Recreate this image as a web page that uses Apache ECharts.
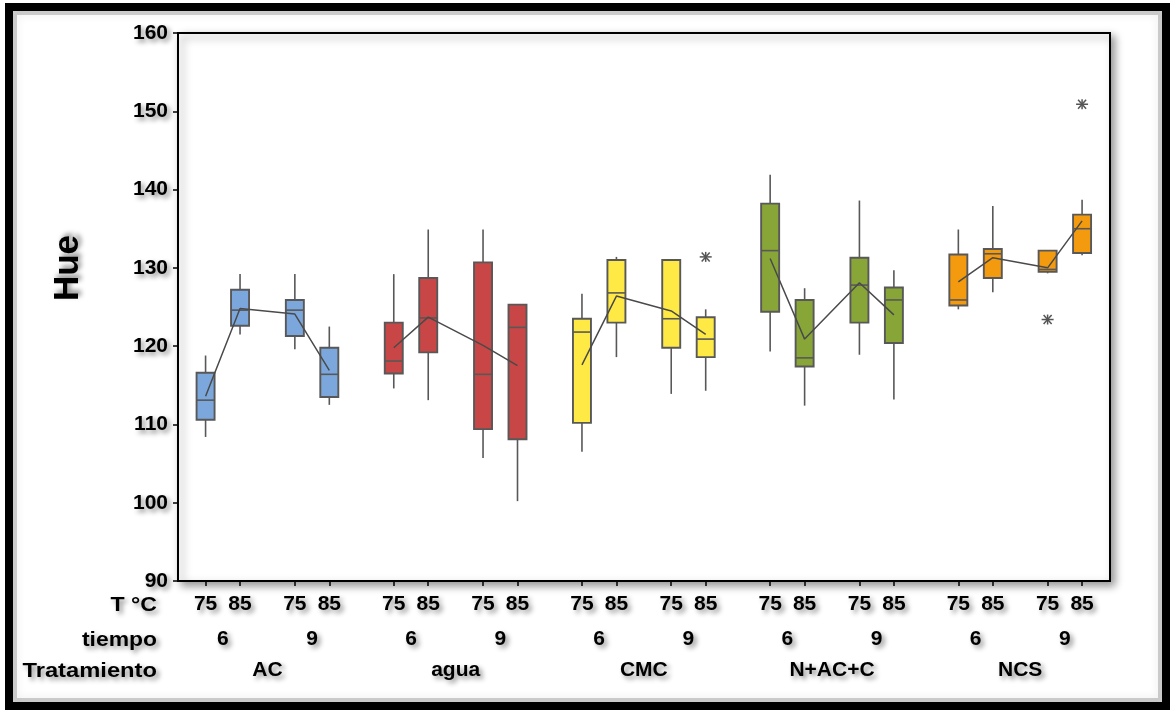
<!DOCTYPE html>
<html><head><meta charset="utf-8">
<script src="https://cdn.jsdelivr.net/npm/echarts@6/dist/echarts.min.js"></script>
<style>html,body{margin:0;padding:0;background:#fff}#c{width:1171px;height:710px}</style>
</head><body><div id="c"></div>
<script>
// ---- data ----
const treatments = ['AC', 'agua', 'CMC', 'N+AC+C', 'NCS'];
const tiempos = ['6', '9'];
const temps = ['75', '85'];
const yTicks = [90, 100, 110, 120, 130, 140, 150, 160];
// box order: treatment > tiempo > T °C
const whiskerLow  = [108.4, 121.5, 119.6, 112.5, 114.6, 113.1, 105.7, 100.2, 106.5, 118.6, 113.9, 114.3, 119.3, 112.4, 118.9, 113.2, 124.7, 126.9, 129.3, 131.6];
const q1          = [110.6, 122.6, 121.3, 113.5, 116.5, 119.2, 109.4, 108.1, 110.2, 123.0, 119.8, 118.6, 124.4, 117.4, 123.0, 120.4, 125.2, 128.7, 129.5, 131.9];
const medians     = [113.1, 124.6, 124.6, 116.4, 118.1, 123.6, 116.4, 122.4, 121.8, 126.8, 123.5, 120.9, 132.2, 118.5, 127.8, 125.9, 125.9, 131.8, 129.8, 135.0];
const q3          = [116.6, 127.2, 125.9, 119.8, 123.0, 128.7, 130.7, 125.3, 123.5, 131.0, 131.0, 123.7, 138.2, 125.9, 131.3, 127.5, 131.7, 132.4, 132.2, 136.8];
const whiskerHigh = [118.8, 129.2, 129.2, 122.5, 129.2, 134.9, 134.9, 125.3, 126.7, 131.4, 131.0, 124.7, 141.9, 127.4, 138.6, 129.7, 134.9, 137.9, 132.2, 138.7];
const means       = [113.6, 124.8, 124.1, 116.9, 119.8, 123.7, 120.1, 117.5, 117.6, 126.4, 124.5, 121.5, 131.2, 120.9, 128.1, 124.0, 128.2, 131.3, 130.0, 136.0];
const outlierBox   = [11, 18, 19];
const outlierValue = [131.4, 123.4, 150.9];

// ---- layout / style ----
const boxColors = ['#7ba7dc', '#c84646', '#ffe945', '#88a637', '#f49a0e'];
const GAP_PAIR = 1, GAP_TIEMPO = 1.59, GAP_TREAT = 1.87;
const FONT = '"Liberation Sans", Arial, sans-serif';
const shadow = { textShadowColor: 'rgba(0,0,0,0.45)', textShadowBlur: 5, textShadowOffsetX: 3, textShadowOffsetY: 3 };

const pos = [], tempLab = [], treatIdx = [];
const tiempoPos = [], tiempoLab = [], treatPos = [];
let p = 0;
treatments.forEach((t, ti) => {
  const start = p;
  tiempos.forEach((tm, mi) => {
    const s = p;
    temps.forEach((tp, pi) => {
      pos.push(p); tempLab.push(tp); treatIdx.push(ti);
      if (pi < temps.length - 1) p += GAP_PAIR;
    });
    tiempoPos.push((s + p) / 2); tiempoLab.push(tm);
    if (mi < tiempos.length - 1) p += GAP_TIEMPO;
  });
  treatPos.push((start + p) / 2);
  if (ti < treatments.length - 1) p += GAP_TREAT;
});
const xMin = -0.8, xMax = p + 0.81;

function labelAt(values, labels) {
  return v => { const i = values.findIndex(q => Math.abs(q - v) < 1e-6); return i >= 0 ? labels[i] : ''; };
}

const boxData = pos.map((x, i) => [x, whiskerLow[i], q1[i], medians[i], q3[i], whiskerHigh[i]]);
const outData = outlierBox.map((b, i) => [pos[b], outlierValue[i]]);

const LC = '#585858';
function renderBox(params, api) {
  const x = api.value(0);
  const lo = api.coord([x, api.value(1)]);
  const a = api.coord([x, api.value(2)]);
  const m = api.coord([x, api.value(3)]);
  const b = api.coord([x, api.value(4)]);
  const hi = api.coord([x, api.value(5)]);
  const cx = lo[0], w = 18;
  const col = boxColors[treatIdx[params.dataIndex]];
  const ls = { stroke: LC, lineWidth: 1.6 };
  return { type: 'group', children: [
    { type: 'line', shape: { x1: cx, y1: hi[1], x2: cx, y2: b[1] }, style: ls },
    { type: 'line', shape: { x1: cx, y1: a[1], x2: cx, y2: lo[1] }, style: ls },
    { type: 'rect', shape: { x: cx - w / 2, y: b[1], width: w, height: a[1] - b[1] }, style: { fill: col, stroke: LC, lineWidth: 1.9 } },
    { type: 'line', shape: { x1: cx - w / 2, y1: m[1], x2: cx + w / 2, y2: m[1] }, style: ls }
  ]};
}
function renderStar(params, api) {
  const c = api.coord([api.value(0), api.value(1)]);
  const s = { stroke: '#555', lineWidth: 1.5 };
  const L = (x1, y1, x2, y2) => ({ type: 'line', shape: { x1: c[0] + x1, y1: c[1] + y1, x2: c[0] + x2, y2: c[1] + y2 }, style: s });
  return { type: 'group', children: [
    L(-6, 0, 6, 0), L(0, -5, 0, 5), L(-4, -4.5, 4, 4.5), L(-4, 4.5, 4, -4.5)
  ]};
}

const series = [
  { type: 'custom', renderItem: renderBox, data: boxData, encode: { x: 0, y: [1, 2, 3, 4, 5] }, z: 2, silent: true },
  { type: 'custom', renderItem: renderStar, data: outData, encode: { x: 0, y: 1 }, z: 4, silent: true }
];
treatments.forEach((t, ti) => {
  const d = [];
  pos.forEach((x, i) => { if (treatIdx[i] === ti) d.push([x, means[i]]); });
  series.push({ type: 'line', data: d, symbol: 'none', lineStyle: { color: '#4a4a4a', width: 1.5 }, z: 3, silent: true, animation: false });
});

const baseLabel = Object.assign({ fontFamily: FONT, fontWeight: 'bold', fontSize: 21, color: '#000' }, shadow);

function rowTitle(text, y, sx) {
  return { type: 'text', x: 157, y: y, scaleX: sx, style: Object.assign({ text: text, fontFamily: FONT, fontWeight: 'bold', fontSize: 21, fill: '#000', align: 'right', verticalAlign: 'middle' }, shadow) };
}

const chart = echarts.init(document.getElementById('c'), null, { renderer: 'canvas' });
chart.setOption({
  animation: false,
  backgroundColor: '#fff',
  grid: { left: 178, right: 61, top: 33, bottom: 129, show: true, backgroundColor: '#fff', borderColor: '#000', borderWidth: 2,
          shadowColor: 'rgba(0,0,0,0.4)', shadowBlur: 8, shadowOffsetX: 4, shadowOffsetY: 4 },
  xAxis: [
    { type: 'value', min: xMin, max: xMax, position: 'bottom',
      axisLine: { show: true, onZero: false, lineStyle: { color: '#000', width: 2 } },
      axisTick: { show: true, customValues: pos, length: 5, lineStyle: { color: '#000', width: 1.5 } },
      axisLabel: Object.assign({}, baseLabel, { customValues: pos, margin: 13, formatter: labelAt(pos, tempLab) }),
      splitLine: { show: false } },
    { type: 'value', min: xMin, max: xMax, position: 'bottom', offset: 0,
      axisLine: { show: false, onZero: false }, axisTick: { show: false },
      axisLabel: Object.assign({}, baseLabel, { customValues: tiempoPos, margin: 48, formatter: labelAt(tiempoPos, tiempoLab) }),
      splitLine: { show: false } },
    { type: 'value', min: xMin, max: xMax, position: 'bottom', offset: 0,
      axisLine: { show: false, onZero: false }, axisTick: { show: false },
      axisLabel: Object.assign({}, baseLabel, { customValues: treatPos, margin: 79, formatter: labelAt(treatPos, treatments) }),
      splitLine: { show: false } }
  ],
  yAxis: { type: 'value', min: yTicks[0], max: yTicks[yTicks.length - 1], interval: 10,
    axisLine: { show: true, onZero: false, lineStyle: { color: '#000', width: 2 } },
    axisTick: { show: true, length: 5, lineStyle: { color: '#000', width: 1.5 } },
    axisLabel: Object.assign({}, baseLabel, { margin: 10 }),
    splitLine: { show: false } },
  graphic: [
    { type: 'rect', shape: { x: 9, y: 7, width: 1157, height: 699 }, style: { fill: 'none', stroke: '#000', lineWidth: 8 }, z: 100 },
    { type: 'rect', shape: { x: 15, y: 13, width: 1145, height: 687 }, style: { fill: 'none', stroke: 'rgba(0,0,0,0.18)', lineWidth: 4, shadowBlur: 8, shadowColor: 'rgba(0,0,0,0.5)' }, z: 99 },
    { type: 'text', x: 68, y: 268, rotation: Math.PI / 2, style: { text: 'Hue', fontFamily: FONT, fontWeight: 'bold', fontSize: 35, fill: '#000', align: 'center', verticalAlign: 'middle', textShadowColor: 'rgba(0,0,0,0.45)', textShadowBlur: 5, textShadowOffsetX: 3, textShadowOffsetY: -3 } },
    rowTitle('T °C', 605, 1.1),
    rowTitle('tiempo', 640, 1.09),
    rowTitle('Tratamiento', 671, 1.13)
  ],
  series: series
});
</script>
</body></html>
